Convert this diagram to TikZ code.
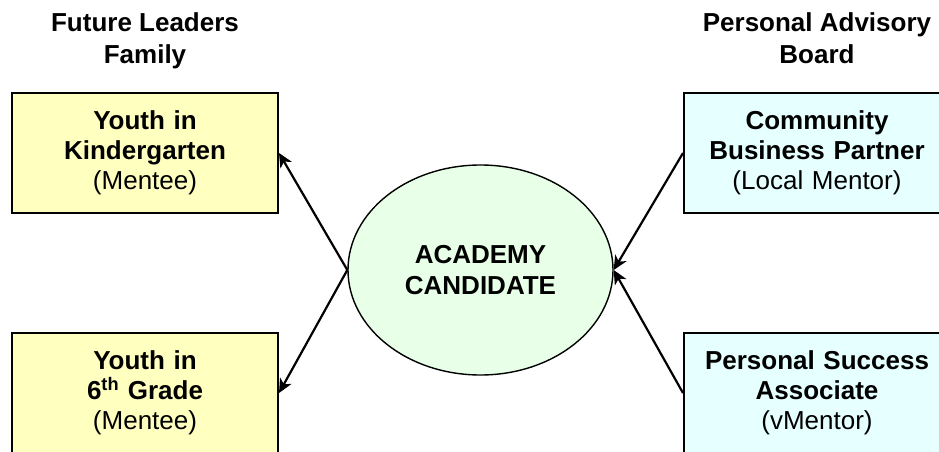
\documentclass[tikz,border=0pt]{standalone}
\usepackage{fontspec}
\setmainfont{Liberation Sans}
\usepackage{tikz}
\usetikzlibrary{shapes.geometric, arrows.meta, positioning}
\definecolor{mydark}{RGB}{0,0,0}
\definecolor{boxyellow}{RGB}{255,255,192}
\definecolor{boxcyan}{RGB}{230,255,255}
\definecolor{candgreen}{RGB}{232,255,232}
\tikzset{
  famblock/.style={rectangle, draw=mydark, fill=boxyellow,
    minimum width=266pt, minimum height=120pt, text width=250pt,
    align=center, line width=2pt, inner sep=0pt,
    font=\fontsize{26}{30}\selectfont},
  advblock/.style={famblock, fill=boxcyan},
  candnode/.style={ellipse, draw=mydark, fill=candgreen,
    minimum width=265pt, minimum height=210pt, align=center,
    line width=1.4pt, inner sep=0pt,
    font=\fontsize{26}{31}\selectfont\bfseries},
  header/.style={align=center, inner sep=0pt,
    font=\fontsize{26}{32}\selectfont\bfseries},
  arrow/.style={-{Stealth[length=14pt, width=13pt, inset=4pt]},
    line width=2.2pt, color=mydark}
}
\begin{document}
\begin{tikzpicture}[x=1pt, y=-1pt]
  \useasboundingbox (0,0) rectangle (939,452);

  % column headers
  \node[header] (famhdr) at (145,43) {Future Leaders\\Family\strut};
  \node[header] (advhdr) at (817,43) {Personal Advisory\\Board\strut};

  % mentees
  \node[famblock] (kinder) at (145,153)
    {\textbf{Youth in}\\\textbf{Kindergarten}\\(Mentee)};
  \node[famblock] (grade) at (145,393)
    {\textbf{Youth in}\\\textbf{6\textsuperscript{th} Grade}\\(Mentee)};

  % mentors
  \node[advblock] (partner) at (817,153)
    {\textbf{Community}\\\textbf{Business Partner}\\(Local Mentor)};
  \node[advblock] (assoc) at (817,393)
    {\textbf{Personal Success}\\\textbf{Associate}\\(vMentor)};

  % candidate
  \node[candnode] (cand) at (480.5,270) {ACADEMY\\CANDIDATE};

  \draw[arrow] (cand.west) -- (kinder.east);
  \draw[arrow] (cand.west) -- (grade.east);
  \draw[arrow] (partner.west) -- (cand.east);
  \draw[arrow] (assoc.west) -- (cand.east);
\end{tikzpicture}
\end{document}
